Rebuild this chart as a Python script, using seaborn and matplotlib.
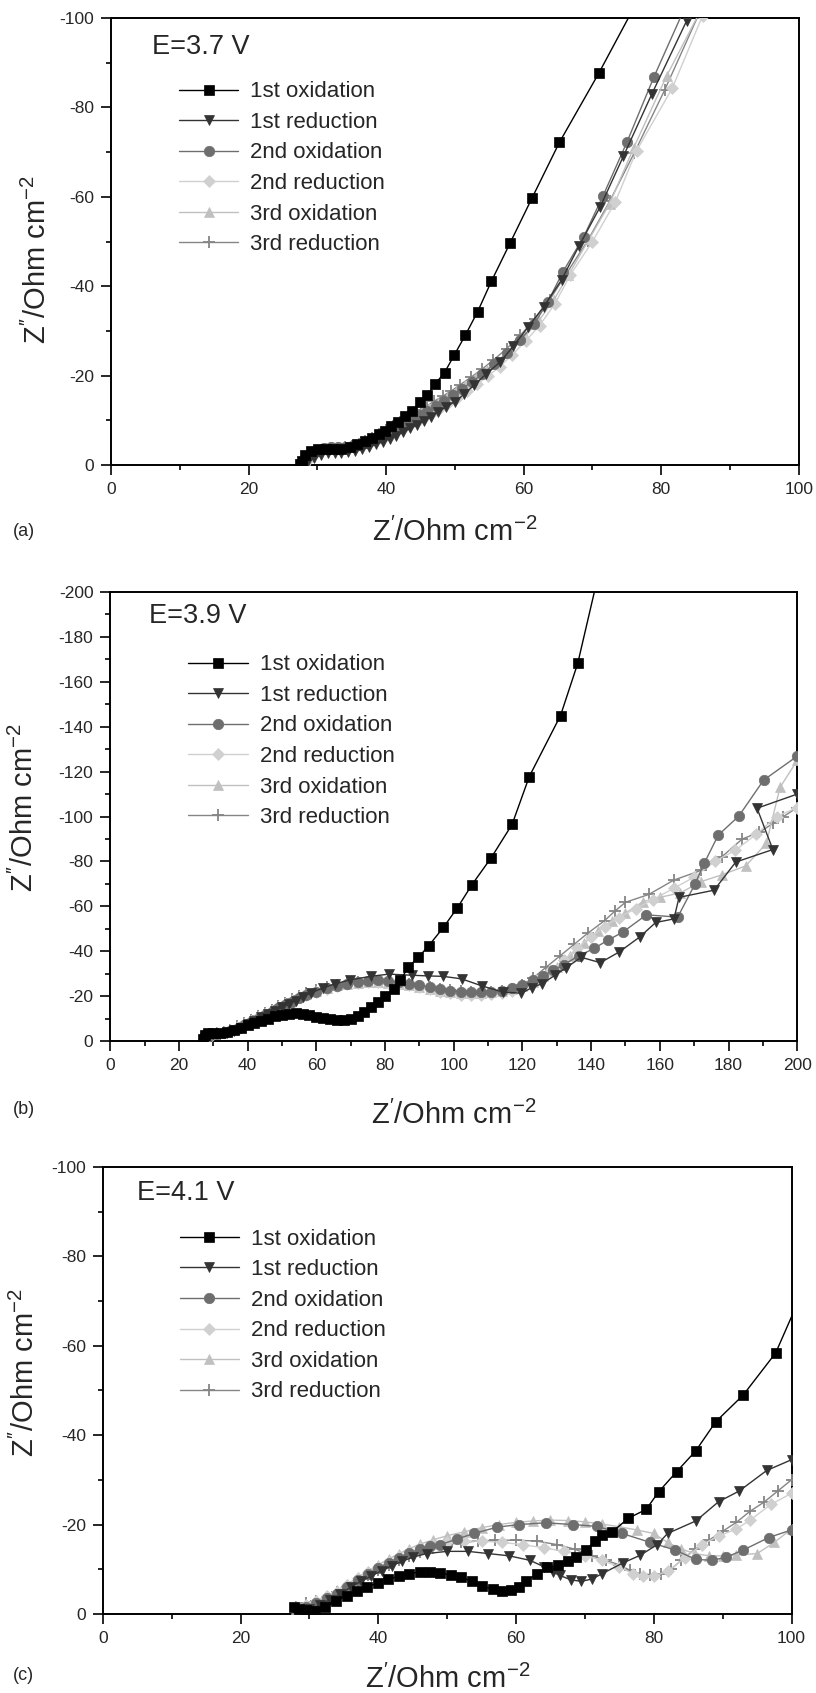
import numpy as np
import pandas as pd
import matplotlib
matplotlib.use('Agg')
import matplotlib.pyplot as plt
from matplotlib.ticker import MultipleLocator
import seaborn as sns

sns.set_style('white')
plt.rcParams['font.family'] = ['Liberation Sans', 'DejaVu Sans']
plt.rcParams['axes.unicode_minus'] = False
plt.rcParams['mathtext.fontset'] = 'custom'
plt.rcParams['mathtext.rm'] = 'Liberation Sans'
plt.rcParams['mathtext.it'] = 'Liberation Sans'
plt.rcParams['mathtext.default'] = 'regular'

names = ['1st oxidation', '1st reduction', '2nd oxidation', '2nd reduction', '3rd oxidation', '3rd reduction']
colors = ['#000000', '#333333', '#6e6e6e', '#d0d0d0', '#c0c0c0', '#858585']
markers = ['s', 'v', 'o', 'D', '^', '+']

# ---------------- (a) E=3.7 V ----------------
a_ox1_x = [27.5, 27.7, 28.2, 29.1, 30.1, 31.2, 32.3, 33.5, 34.8, 35.8, 36.9, 38.0, 38.9, 39.8, 40.7, 41.7, 42.7, 43.7, 44.9, 46.0, 47.1, 48.5, 49.9, 51.5, 53.3, 55.3, 58.0, 61.2, 65.2, 70.9, 78.0]
a_ox1_y = [-0.3, -1.0, -2.2, -3.2, -3.6, -3.5, -3.6, -3.7, -4.1, -4.6, -5.3, -6.1, -6.9, -7.7, -8.7, -9.7, -10.9, -12.1, -14.0, -15.7, -18.1, -20.7, -24.6, -29.0, -34.3, -41.1, -49.6, -59.7, -72.2, -87.6, -108.0]
a_red1_x = [28.5, 29.5, 30.5, 31.5, 32.5, 33.5, 34.5, 35.5, 36.5, 37.5, 38.5, 39.5, 40.5, 41.5, 42.5, 43.5, 44.5, 45.5, 46.5, 47.5, 48.7, 50.0, 51.3, 52.8, 54.5, 56.6, 58.5, 60.6, 62.9, 65.5, 68.0, 71.1, 74.5, 78.6, 83.7, 86.0]
a_red1_y = [-0.5, -1.5, -2.3, -2.7, -2.8, -2.8, -2.9, -3.1, -3.5, -4.0, -4.6, -5.2, -5.9, -6.6, -7.4, -8.2, -9.0, -9.9, -10.8, -11.8, -13.0, -14.2, -15.8, -17.9, -20.3, -23.1, -26.6, -30.8, -35.4, -41.4, -48.9, -57.7, -69.1, -82.9, -99.4, -107.0]
a_ox2_x = [28.0, 29.0, 30.0, 31.0, 32.0, 33.0, 34.0, 35.0, 36.0, 37.0, 38.0, 39.0, 40.0, 41.0, 42.0, 43.0, 44.0, 45.0, 46.0, 47.2, 48.4, 49.7, 51.0, 52.5, 54.0, 55.7, 57.5, 59.5, 61.5, 63.5, 65.7, 68.7, 71.5, 75.0, 78.9, 84.5]
a_ox2_y = [-1.0, -2.5, -3.3, -3.8, -4.0, -4.1, -4.1, -4.2, -4.5, -5.0, -5.6, -6.3, -7.0, -7.8, -8.6, -9.4, -10.3, -11.2, -12.1, -13.2, -14.4, -15.6, -17.0, -18.6, -20.4, -22.5, -25.0, -28.0, -31.5, -36.5, -43.2, -51.0, -60.1, -72.2, -86.7, -106.0]
a_red2_x = [28.5, 29.5, 30.5, 31.5, 32.5, 33.5, 34.5, 35.5, 36.5, 37.5, 38.5, 39.5, 40.5, 41.5, 42.5, 43.5, 44.5, 45.5, 46.5, 47.7, 49.0, 50.3, 51.7, 53.2, 54.8, 56.5, 58.3, 60.3, 62.3, 64.5, 66.8, 70.0, 73.3, 76.4, 81.6, 86.0]
a_red2_y = [-1.0, -2.3, -3.0, -3.4, -3.6, -3.7, -3.8, -3.9, -4.2, -4.7, -5.3, -5.9, -6.6, -7.3, -8.1, -8.9, -9.7, -10.6, -11.5, -12.6, -13.8, -15.1, -16.5, -18.1, -19.9, -22.0, -24.6, -27.8, -31.2, -36.0, -42.6, -50.0, -58.8, -70.3, -84.3, -100.5]
a_ox3_x = [28.2, 29.2, 30.2, 31.2, 32.2, 33.2, 34.2, 35.2, 36.2, 37.2, 38.2, 39.2, 40.2, 41.2, 42.2, 43.2, 44.2, 45.2, 46.3, 47.5, 48.8, 50.1, 51.5, 53.0, 54.6, 56.3, 58.2, 60.2, 62.2, 64.4, 66.5, 69.5, 72.5, 76.0, 80.8, 86.5]
a_ox3_y = [-1.2, -2.6, -3.4, -3.8, -4.0, -4.1, -4.1, -4.2, -4.6, -5.2, -5.9, -6.7, -7.5, -8.3, -9.1, -10.0, -10.9, -11.8, -12.8, -13.9, -15.1, -16.4, -17.8, -19.4, -21.2, -23.3, -25.8, -28.8, -32.3, -37.0, -42.5, -50.5, -58.5, -71.0, -87.1, -104.0]
a_red3_x = [28.0, 29.0, 30.0, 31.0, 32.0, 33.0, 34.0, 35.0, 36.0, 37.0, 38.0, 39.0, 40.0, 41.0, 42.0, 43.0, 44.0, 45.0, 46.0, 47.0, 48.2, 49.5, 50.8, 52.3, 53.9, 55.6, 57.5, 59.5, 61.6, 63.8, 66.2, 69.3, 72.5, 76.1, 80.5, 85.5]
a_red3_y = [-1.0, -2.4, -3.2, -3.6, -3.8, -3.9, -4.0, -4.2, -4.6, -5.3, -6.1, -7.0, -7.9, -8.8, -9.7, -10.6, -11.5, -12.4, -13.3, -14.3, -15.4, -16.6, -18.0, -19.6, -21.4, -23.5, -26.0, -29.0, -32.6, -37.0, -42.8, -50.2, -59.0, -69.9, -83.9, -101.0]

# ---------------- (b) E=3.9 V ----------------
b_ox1_x = [27.0, 27.5, 28.5, 30, 32, 34, 36, 38, 40, 42, 44, 46, 48, 50, 52, 54, 56, 58, 60, 62, 64, 66, 68, 70, 72, 74, 76, 78, 80, 82.5, 84.5, 86.7, 89.7, 92.7, 97.0, 101.1, 105.3, 110.9, 117.0, 122.0, 131.1, 136.1, 141.7]
b_ox1_y = [-1, -2.5, -3.5, -3.5, -3.5, -4, -5, -6, -7, -8, -9, -10, -11, -11.8, -12.2, -12.3, -12.0, -11.5, -10.9, -10.2, -9.6, -9.2, -9.2, -9.8, -11.0, -12.8, -15.0, -17.5, -20.2, -23.0, -27.0, -32.8, -37.3, -42.4, -50.6, -59.4, -69.6, -81.6, -96.5, -117.8, -145.0, -168.2, -205]
b_red1_x = [27.5, 28.5, 30, 32, 34, 36, 38, 40, 42, 44, 46, 48, 50, 52, 54, 56, 58.5, 62.1, 65.5, 69.7, 75.8, 81.1, 87.9, 92.5, 97.0, 102.3, 108.3, 114.4, 119.7, 122.7, 125.8, 129.5, 132.6, 137.1, 142.7, 148.2, 154.2, 158.8, 164.1, 165.6, 175.8, 182.1, 192.9, 188.3, 200]
b_red1_y = [-1.5, -2.5, -3, -3, -3.5, -4.5, -6, -7.5, -9, -10.5, -12, -13.5, -15, -16.5, -18, -19.5, -21.5, -23.7, -25.5, -27.2, -28.8, -29.8, -29.3, -29.0, -28.8, -27.7, -24.5, -21.8, -21.3, -23.7, -25.6, -29.3, -32.5, -37.3, -34.9, -39.7, -46.4, -52.8, -54.4, -64.0, -67.2, -79.7, -85.3, -103.7, -110]
b_ox2_x = [28, 29, 31, 33, 35, 37, 39, 41, 43, 45, 47, 49, 51, 53, 55, 57, 60, 63, 66, 69, 72, 75, 78, 81, 84, 87, 90, 93, 96, 99, 102, 105, 108, 111, 114, 117, 120, 123, 126, 129, 132, 136.5, 140.9, 145, 149.2, 156.1, 165.2, 170.2, 173.0, 177.0, 183.0, 190.2, 200]
b_ox2_y = [-1, -2.5, -3, -3.5, -4.5, -5.5, -7, -8.5, -10, -11.5, -13, -14.5, -16, -17.5, -19, -20.5, -22, -23.5, -24.5, -25.5, -26.3, -26.8, -27.0, -26.8, -26.3, -25.6, -24.8, -24.0, -23.2, -22.5, -22.0, -21.8, -21.8, -22.0, -22.5, -23.5, -25.0, -27.0, -29.0, -31.5, -34.0, -38.0, -41.3, -45.0, -48.5, -56.2, -55.2, -69.8, -79.4, -91.7, -100.2, -116.2, -126.9]
b_red2_x = [28, 29.5, 31, 33, 35, 37, 39, 41, 43, 45, 47, 49, 51, 53, 55, 57, 60, 63, 66, 69, 72, 75, 78, 81, 84, 87, 90, 93, 96, 99, 102, 105, 108, 111, 114, 117, 120, 124, 128, 132, 136, 140, 144, 148, 153, 158, 164, 170, 176, 182, 188, 194, 200]
b_red2_y = [-1, -2.5, -3.5, -4, -5, -6, -7.5, -9, -10.5, -12, -13.5, -15, -16.5, -18, -19.5, -20.5, -22, -23.3, -24.3, -25.2, -25.8, -26.2, -26.3, -26.0, -25.5, -24.8, -24.0, -23.0, -22.0, -21.2, -20.6, -20.3, -20.4, -20.8, -21.5, -22.5, -24.0, -27.0, -31.0, -36.0, -41.5, -46.5, -51.0, -55.0, -59.0, -63.0, -68.0, -73.0, -80.0, -85.0, -92.0, -100.0, -104.0]
b_ox3_x = [28, 29.5, 31, 33, 35, 37, 39, 41, 43, 45, 47, 49, 51, 53, 55, 57, 60, 63, 66, 69, 72, 75, 78, 81, 84, 87, 90, 93, 96, 99, 102, 105, 108, 111, 114, 117, 120, 123, 126, 130, 134, 138, 142, 146, 150, 155, 160, 166, 172, 178, 185, 191, 195, 200]
b_ox3_y = [-1.5, -3, -3.5, -4, -5, -6.5, -8, -9.5, -11, -12.5, -14, -15.5, -17, -18.5, -20, -21, -22.5, -23.8, -24.8, -25.5, -26.0, -26.3, -26.3, -26.0, -25.5, -24.8, -24.0, -23.2, -22.5, -22.0, -21.6, -21.4, -21.5, -21.8, -22.4, -23.3, -24.5, -26.5, -29.0, -33.0, -38.0, -43.5, -49.0, -53.5, -57.0, -62.0, -64.0, -66.0, -71.0, -74.0, -78.0, -88.0, -113.0, -125.0]
b_red3_x = [28, 29, 31, 33, 35, 37, 39, 41, 43, 45, 47, 49, 51, 53, 55, 57, 60, 63, 66, 69, 72, 75, 78, 81, 84, 87, 90, 93, 96, 99, 102, 105, 108, 111, 114, 117, 120, 123, 127, 131, 135, 139, 143.9, 147, 150, 156.8, 164.1, 172, 178, 184, 189, 193, 196, 200]
b_red3_y = [-1, -2.5, -3.5, -4, -5, -6.5, -8, -9.5, -11, -12.5, -14, -15.5, -17, -18.5, -20, -21.3, -22.8, -24, -25, -25.8, -26.2, -26.5, -26.5, -26.2, -25.8, -25.2, -24.6, -24.0, -23.3, -22.8, -22.3, -22.0, -21.9, -22.0, -22.2, -23.0, -25.0, -28.0, -33.0, -38.0, -43.0, -48.0, -53.6, -58.0, -61.8, -65.3, -71.7, -76.0, -82.0, -90.0, -93.0, -97.0, -100.0, -104.0]

# ---------------- (c) E=4.1 V ----------------
c_ox1_x = [27.8, 28.5, 29.5, 30.8, 32.3, 33.9, 35.4, 36.9, 38.4, 39.9, 41.4, 43.0, 44.5, 46.0, 47.5, 49.0, 50.5, 52.0, 53.6, 55.1, 56.6, 58.0, 59.2, 60.4, 61.5, 63.0, 64.5, 66.1, 67.5, 68.7, 70.2, 71.4, 72.5, 74.0, 76.3, 78.9, 80.7, 83.3, 86.1, 89.0, 93.0, 97.7, 101]
c_ox1_y = [-1.5, -1.0, -0.8, -0.6, -1.6, -2.9, -4.1, -5.1, -6.1, -6.9, -7.8, -8.4, -9.0, -9.4, -9.4, -9.2, -8.7, -8.2, -7.3, -6.3, -5.5, -5.1, -5.3, -6.1, -7.3, -9.0, -10.4, -10.9, -11.8, -12.7, -14.3, -16.3, -17.6, -18.4, -21.4, -23.4, -27.3, -31.8, -36.5, -43.0, -49.0, -58.4, -70.0]
c_red1_x = [28.5, 30, 31.5, 33, 34.5, 36, 37.5, 39, 40.5, 42, 43.5, 45, 47, 50, 53, 56, 59, 62, 64, 65.3, 66.4, 68.0, 69.5, 71.0, 72.5, 75.5, 78.0, 80.5, 82.0, 86.1, 89.4, 92.4, 96.4, 100]
c_red1_y = [-0.5, -1, -2, -3.2, -4.5, -6, -7.3, -8.5, -9.7, -10.8, -11.8, -12.7, -13.5, -14.0, -14.0, -13.5, -13.0, -12.0, -10.6, -9.4, -8.6, -7.6, -7.3, -7.8, -9.0, -11.4, -13.1, -15.5, -18.0, -20.8, -25.1, -27.5, -32.1, -34.5]
c_ox2_x = [28, 29.5, 31, 32.5, 34, 35.5, 37, 38.5, 40, 41.5, 43, 44.5, 46, 47.5, 49.0, 51.5, 53.9, 57.2, 60.4, 64.3, 68.2, 71.7, 75.4, 79.5, 83.1, 86.1, 88.5, 90.5, 93.0, 96.7, 100]
c_ox2_y = [-1, -1.5, -2.5, -3.5, -4.5, -6, -7.5, -9, -10.3, -11.5, -12.6, -13.6, -14.5, -15.2, -15.5, -16.8, -18.0, -19.4, -20.0, -20.4, -20.0, -19.6, -18.0, -16.0, -14.3, -12.2, -12.0, -12.7, -14.3, -17.1, -18.8]
c_red2_x = [28, 29.5, 31, 32.5, 34, 35.5, 37, 38.5, 40, 41.5, 43, 44.5, 46, 48, 50, 52.5, 55, 58, 61, 64, 67, 70, 72.5, 75, 77, 78.5, 80, 82, 84.5, 87, 89.5, 92, 94, 97, 100]
c_red2_y = [-1.5, -2, -3, -4, -5, -6.5, -8, -9.3, -10.5, -11.7, -12.8, -13.8, -14.7, -15.5, -16.0, -16.3, -16.3, -16.0, -15.5, -14.8, -14.0, -13.0, -12.0, -10.5, -9.0, -8.5, -8.5, -9.5, -12.5, -15.5, -17.5, -19.0, -21.0, -24.5, -27.0]
c_ox3_x = [28, 29.5, 31, 32.5, 34, 35.5, 37, 38.5, 40, 41.5, 43, 44.5, 46, 48, 50, 52.5, 55, 57.5, 60, 62.5, 65, 67.5, 70, 72.5, 75, 77.5, 80, 82, 84, 86, 88, 90, 92, 95, 97.5, 100]
c_ox3_y = [-1, -2, -3, -4, -5.3, -6.7, -8.2, -9.6, -11, -12.3, -13.5, -14.6, -15.6, -16.6, -17.5, -18.4, -19.3, -20.0, -20.5, -20.8, -21.0, -20.9, -20.6, -20.1, -19.5, -18.8, -18.0, -16.0, -14.5, -13.5, -13.0, -13.0, -13.2, -13.5, -16.0, -19.0]
c_red3_x = [28, 29.5, 31, 32.5, 34, 35.5, 37, 38.5, 40, 41.5, 43, 44.5, 46, 48, 50, 52, 54.5, 57, 60, 63, 66, 68.5, 71, 73, 75, 76.5, 78, 79.5, 81, 82.5, 84, 86, 88, 90, 92, 94, 96, 98, 100]
c_red3_y = [-1.5, -2.5, -3, -3.8, -4.8, -6, -7.3, -8.6, -9.8, -11, -12, -13, -13.9, -14.8, -15.5, -16, -16.3, -16.5, -16.5, -16.3, -15.5, -14.5, -13.0, -12.0, -11.0, -9.8, -9.0, -8.8, -9.0, -10.0, -12.0, -14.5, -16.5, -18.5, -20.5, -23.0, -25.0, -27.5, -30.0]

panels = [
    dict(tag='(a)', E='E=3.7 V', xmax=100, ymin=-100,
         xs=[a_ox1_x, a_red1_x, a_ox2_x, a_red2_x, a_ox3_x, a_red3_x],
         ys=[a_ox1_y, a_red1_y, a_ox2_y, a_red2_y, a_ox3_y, a_red3_y],
         rect=[0.136, 0.7253, 0.843, 0.2641], tag_xy=(0.016, 1 - 532 / 1693),
         ylab=(-0.086, 0.46), xpad=15, Exy=(0.06, 0.936), leg=(0.086, 0.878)),
    dict(tag='(b)', E='E=3.9 V', xmax=200, ymin=-200,
         xs=[b_ox1_x, b_red1_x, b_ox2_x, b_red2_x, b_ox3_x, b_red3_x],
         ys=[b_ox1_y, b_red1_y, b_ox2_y, b_red2_y, b_ox3_y, b_red3_y],
         rect=[0.135, 0.3851, 0.842, 0.2652], tag_xy=(0.016, 1 - 1110 / 1693),
         ylab=(-0.103, 0.52), xpad=20, Exy=(0.057, 0.946), leg=(0.101, 0.881)),
    dict(tag='(c)', E='E=4.1 V', xmax=100, ymin=-100,
         xs=[c_ox1_x, c_red1_x, c_ox2_x, c_red2_x, c_ox3_x, c_red3_x],
         ys=[c_ox1_y, c_red1_y, c_ox2_y, c_red2_y, c_ox3_y, c_red3_y],
         rect=[0.126, 0.0467, 0.844, 0.2640], tag_xy=(0.016, 1 - 1676 / 1693),
         ylab=(-0.091, 0.54), xpad=14, Exy=(0.05, 0.942), leg=(0.099, 0.882)),
]

fig = plt.figure(figsize=(8.16, 16.93), dpi=100)

for p in panels:
    ax = fig.add_axes(p['rect'])
    for i in range(6):
        df = pd.DataFrame({'x': p['xs'][i], 'y': p['ys'][i]})
        mew = 1.3 if markers[i] == '+' else 0.5
        ms = 9 if markers[i] == '+' else (6 if markers[i] == 'D' else 7.5)
        sns.lineplot(data=df, x='x', y='y', sort=False, estimator=None, ax=ax,
                     color=colors[i], marker=markers[i], markersize=ms,
                     markeredgecolor=colors[i], markeredgewidth=mew,
                     linewidth=1.0, label=names[i], zorder=10 - i)
    ax.set_xlim(0, p['xmax'])
    ax.set_ylim(0, p['ymin'])
    ax.xaxis.set_major_locator(MultipleLocator(20))
    ax.xaxis.set_minor_locator(MultipleLocator(10))
    ax.yaxis.set_major_locator(MultipleLocator(20))
    ax.yaxis.set_minor_locator(MultipleLocator(10))
    ax.tick_params(which='major', direction='out', length=7, width=1.4, labelsize=12.5,
                   bottom=True, left=True, top=False, right=False, pad=5)
    ax.tick_params(which='minor', direction='out', length=3.5, width=1.4,
                   bottom=True, left=True, top=False, right=False)
    for s in ax.spines.values():
        s.set_linewidth(1.4)
        s.set_color('black')
    ax.set_xlabel(r"Z$^{\prime}$/Ohm cm$^{-2}$", fontsize=21, labelpad=p['xpad'])
    ax.set_ylabel(r"Z$^{\prime\prime}$/Ohm cm$^{-2}$", fontsize=21)
    ax.yaxis.set_label_coords(*p['ylab'])
    ax.text(p['Exy'][0], p['Exy'][1], p['E'], transform=ax.transAxes, fontsize=19.5,
            va='center', ha='left')
    ax.legend(loc='upper left', bbox_to_anchor=p['leg'], frameon=False, fontsize=16,
              handlelength=2.66, handletextpad=0.54, labelspacing=0.43, borderaxespad=0)
    fig.text(p['tag_xy'][0], p['tag_xy'][1], p['tag'], fontsize=13, ha='left', va='center')

fig.savefig('out.png', dpi=100)
